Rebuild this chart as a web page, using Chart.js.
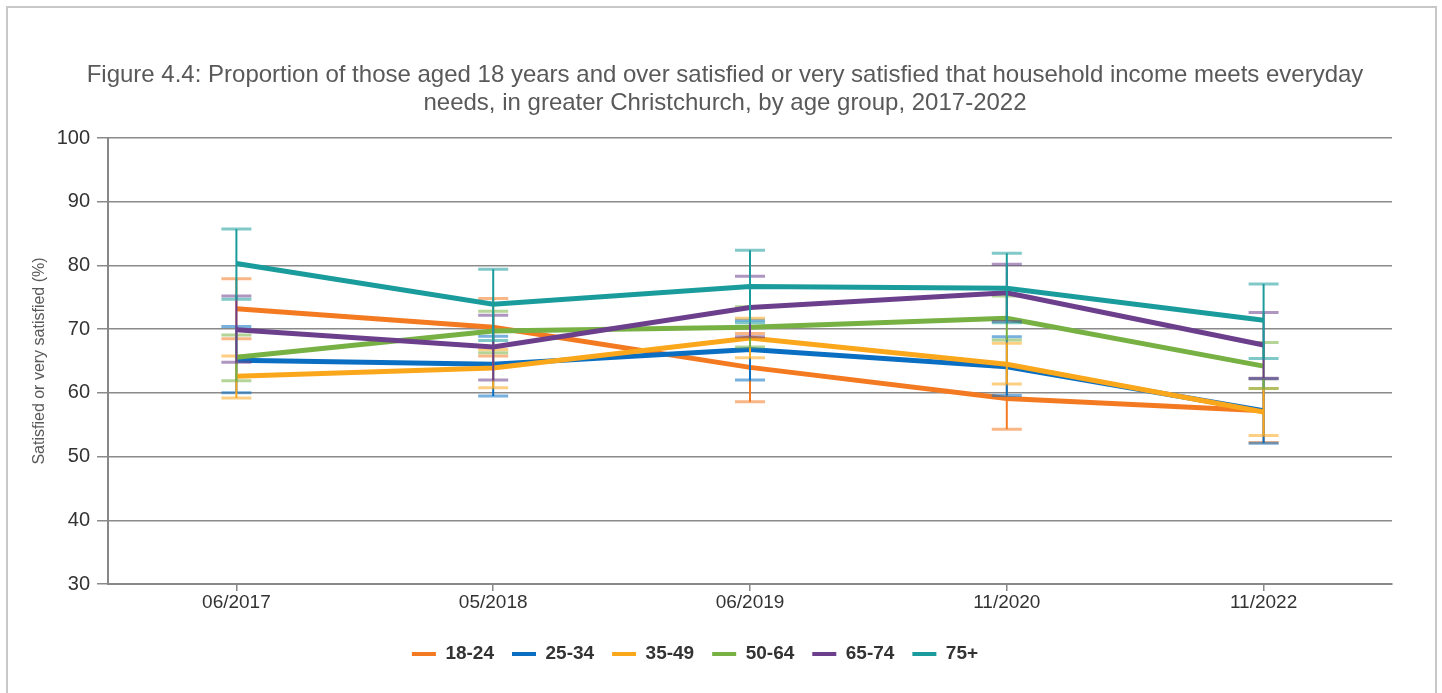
<!DOCTYPE html>
<html>
<head>
<meta charset="utf-8">
<script src="https://cdn.jsdelivr.net/npm/chart.js@4.4.1/dist/chart.umd.min.js"></script>
<style>
  body { margin: 0; background: #fff; }
  .frame { position: absolute; left: 6px; top: 6px; width: 1427px; height: 700px; border: 2px solid #c8c8c8; border-bottom: none; }
  #chart { position: absolute; left: 0; top: 0; }
</style>
</head>
<body>
<div class="frame"></div>
<canvas id="chart" width="1442" height="693"></canvas>
<script>
// survey waves
const waves = ['06/2017', '05/2018', '06/2019', '11/2020', '11/2022'];
const groups = ['18-24', '25-34', '35-49', '50-64', '65-74', '75+'];
const colours = ['#f47a22', '#0a6fc2', '#fba71b', '#77b043', '#6c3f8c', '#1a9c9c'];

// percent satisfied, with 95% CI ends
const v1824 = [73.2, 70.3, 64.0, 59.1, 57.2];
const hi1824 = [77.9, 74.8, 69.3, 64.1, 62.2];
const lo1824 = [68.5, 65.8, 58.6, 54.3, 52.2];

const v2534 = [65.1, 64.5, 66.8, 64.1, 57.2];
const hi2534 = [70.4, 68.9, 71.4, 68.8, 62.2];
const lo2534 = [60.0, 59.5, 62.0, 59.6, 52.1];

const v3549 = [62.6, 63.9, 68.6, 64.5, 57.0];
const hi3549 = [65.8, 66.8, 71.7, 67.8, 60.7];
const lo3549 = [59.2, 60.8, 65.5, 61.4, 53.3];

const v5064 = [65.6, 69.7, 70.3, 71.7, 64.2];
const hi5064 = [69.1, 72.8, 73.5, 75.2, 67.9];
const lo5064 = [61.9, 66.3, 67.2, 68.3, 60.7];

const v6574 = [69.9, 67.2, 73.4, 75.7, 67.5];
const hi6574 = [75.2, 72.2, 78.3, 80.2, 72.6];
const lo6574 = [64.8, 62.0, 68.8, 71.2, 62.3];

const v75 = [80.3, 73.9, 76.7, 76.4, 71.4];
const hi75 = [85.7, 79.4, 82.4, 81.9, 77.1];
const lo75 = [74.7, 68.2, 71.0, 71.0, 65.4];

const yTicks = [30, 40, 50, 60, 70, 80, 90, 100];

const values = [v1824, v2534, v3549, v5064, v6574, v75];
const highs = [hi1824, hi2534, hi3549, hi5064, hi6574, hi75];
const lows = [lo1824, lo2534, lo3549, lo5064, lo6574, lo75];

const fontFam = '"Liberation Sans", Arial, sans-serif';

// draws the CI whiskers right after each line so later series sit on top
const errorBars = {
  id: 'errorBars',
  afterDatasetDraw(chart, args) {
    const ds = chart.data.datasets[args.index];
    const meta = args.meta;
    if (!meta.visible) return;
    const y = chart.scales.y;
    const ctx = chart.ctx;
    ctx.save();
    ctx.strokeStyle = ds.borderColor;
    meta.data.forEach(function (pt, i) {
      const top = y.getPixelForValue(ds.hi[i]);
      const bot = y.getPixelForValue(ds.lo[i]);
      ctx.globalAlpha = 1;
      ctx.lineWidth = 2;
      ctx.beginPath();
      ctx.moveTo(pt.x, top);
      ctx.lineTo(pt.x, bot);
      ctx.stroke();
      ctx.globalAlpha = 0.55;
      ctx.lineWidth = 3;
      ctx.beginPath();
      ctx.moveTo(pt.x - 15, top);
      ctx.lineTo(pt.x + 15, top);
      ctx.moveTo(pt.x - 15, bot);
      ctx.lineTo(pt.x + 15, bot);
      ctx.stroke();
    });
    ctx.restore();
  }
};

// nudge the title and legend boxes sideways to sit where the original has them
const nudge = {
  id: 'nudge',
  afterLayout(chart) {
    if (chart.titleBlock) chart.titleBlock.left += 38;
    if (chart.legend) { chart.legend.left -= 11; chart.legend.right -= 11; }
  }
};

const datasets = [];
for (let i = 0; i < groups.length; i++) {
  datasets.push({
    label: groups[i],
    data: values[i],
    hi: highs[i],
    lo: lows[i],
    borderColor: colours[i],
    backgroundColor: colours[i],
    borderWidth: 5,
    pointRadius: 0,
    pointHoverRadius: 0,
    tension: 0,
    fill: false,
    order: groups.length - i
  });
}

new Chart(document.getElementById('chart'), {
  type: 'line',
  data: { labels: waves, datasets: datasets },
  plugins: [errorBars, nudge],
  options: {
    responsive: false,
    animation: false,
    devicePixelRatio: 1,
    layout: { padding: { left: 20, right: 50, top: 0, bottom: 19.5 } },
    scales: {
      x: {
        offset: true,
        grid: { display: true, drawOnChartArea: false, offset: false, tickLength: 7, color: '#888', lineWidth: 1.5 },
        border: { color: '#888', width: 2 },
        ticks: { color: '#333', font: { family: fontFam, size: 19 }, padding: 0, maxRotation: 0 },
        afterFit: function (scale) { scale.height = 42.5; }
      },
      y: {
        min: 30,
        max: 100,
        afterBuildTicks: function (scale) { scale.ticks = yTicks.map(v => ({ value: v })); },
        grid: { color: '#8a8a8a', lineWidth: 1.5, tickLength: 11 },
        border: { color: '#888', width: 2 },
        ticks: { color: '#333', font: { family: fontFam, size: 20 }, padding: 7 },
        title: {
          display: true,
          text: 'Satisfied or very satisfied (%)',
          color: '#595959',
          font: { family: fontFam, size: 16 },
          padding: { top: 10, bottom: 0 }
        },
        afterFit: function (scale) { scale.width = 88; }
      }
    },
    plugins: {
      title: {
        display: true,
        text: ['Figure 4.4: Proportion of those aged 18 years and over satisfied or very satisfied that household income meets everyday',
               'needs, in greater Christchurch, by age group, 2017-2022'],
        color: '#595959',
        font: { family: fontFam, size: 24, weight: 'normal', lineHeight: 1.1667 },
        padding: { top: 61, bottom: 21 }
      },
      legend: {
        position: 'bottom',
        labels: {
          color: '#333',
          font: { family: fontFam, size: 19, weight: 'bold' },
          boxWidth: 24,
          boxHeight: 4,
          padding: 18,
          generateLabels: function (chart) {
            return Chart.defaults.plugins.legend.labels.generateLabels(chart).map(function (l) {
              l.lineWidth = 0;
              return l;
            });
          },
          sort: (a, b) => a.datasetIndex - b.datasetIndex
        }
      },
      tooltip: { enabled: false }
    }
  }
});
</script>
</body>
</html>
